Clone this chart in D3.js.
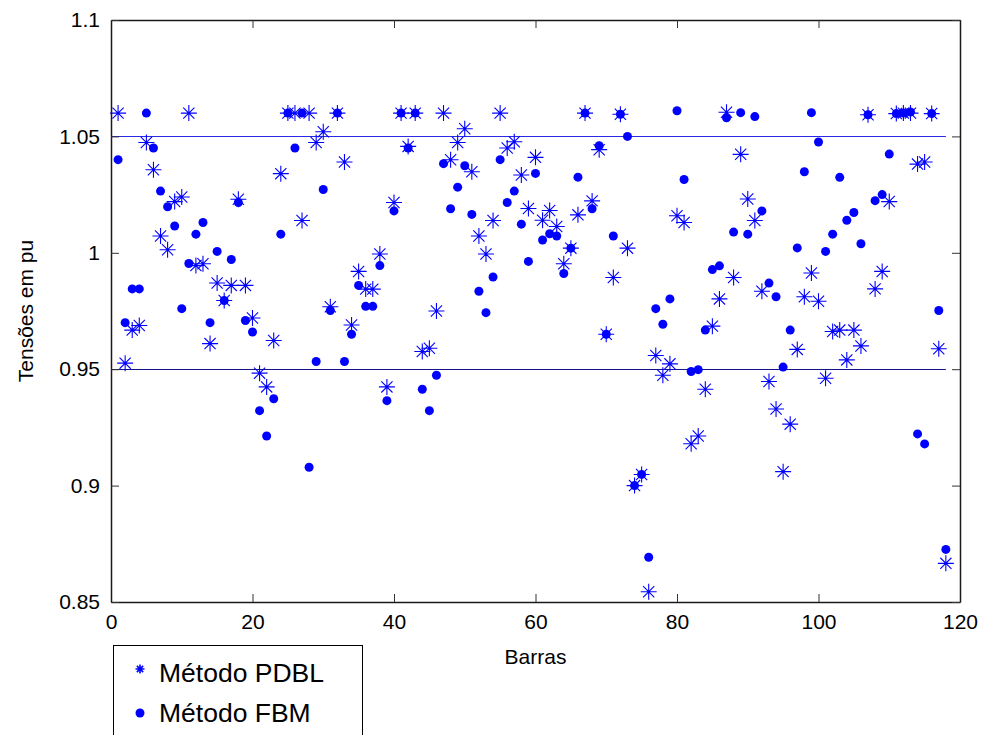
<!DOCTYPE html>
<html>
<head>
<meta charset="utf-8">
<script src="https://cdn.jsdelivr.net/npm/d3@7"></script>
<style>
  html, body { margin: 0; padding: 0; background: #fff; }
  svg { display: block; }
  text { font-family: "Liberation Sans", Arial, sans-serif; fill: #000; }
</style>
</head>
<body>
<svg id="chart" width="987" height="735"></svg>
<script>
// Bus voltages (pu) for the 118 buses, two solution methods
const barras = d3.range(1, 119);

const pdbl = [
  1.060, 0.9526, 0.9668, 0.9688, 1.0474, 1.0357, 1.0072, 1.0013, 1.022, 1.024,
  1.060, 0.9945, 0.9953, 0.961, 0.987, 0.9795, 0.986, 1.023, 0.986, 0.972,
  0.9483, 0.9424, 0.9623, 1.034, 1.060, 1.060, 1.0139, 1.060, 1.0474, 1.052,
  0.9768, 1.060, 1.039, 0.969, 0.992, 0.9844, 0.9844, 0.9995, 0.9424, 1.0216,
  1.060, 1.0457, 1.060, 0.9576, 0.959, 0.975, 1.060, 1.040, 1.0474, 1.0533,
  1.0348, 1.0072, 0.9995, 1.0139, 1.060, 1.045, 1.0477, 1.0334, 1.019, 1.041,
  1.014, 1.0182, 1.0113, 0.9953, 1.002, 1.0163, 1.060, 1.0223, 1.0443, 0.965,
  0.9894, 1.0595, 1.002, 0.900, 0.9048, 0.8544, 0.9559, 0.9474, 0.9523, 1.0159,
  1.013, 0.918, 0.9213, 0.9414, 0.9685, 0.9802, 1.0604, 0.9894, 1.0423, 1.0231,
  1.0139, 0.9835, 0.9447, 0.9329, 0.906, 0.9264, 0.9585, 0.9811, 0.9913, 0.9792,
  0.9461, 0.9662, 0.9668, 0.954, 0.9668, 0.960, 1.0593, 0.9845, 0.992, 1.022,
  1.0598, 1.060, 1.060, 1.0381, 1.039, 1.0598, 0.9588, 0.8666
];

const fbm = [
  1.040, 0.970, 0.9845, 0.9845, 1.060, 1.045, 1.0265, 1.0198, 1.0115, 0.976,
  0.9954, 1.008, 1.013, 0.970, 1.0006, 0.9795, 0.9971, 1.0216, 0.9709, 0.966,
  0.9322, 0.9213, 0.9373, 1.008, 1.060, 1.045, 1.060, 0.9079, 0.9533, 1.0272,
  0.9752, 1.060, 0.9533, 0.965, 0.986, 0.977, 0.977, 0.9945, 0.9365, 1.018,
  1.060, 1.045, 1.060, 0.9414, 0.9322, 0.9474, 1.0383, 1.0189, 1.0282, 1.0374,
  1.0165, 0.9835, 0.9743, 0.9896, 1.040, 1.0216, 1.0265, 1.0123, 0.9963, 1.0341,
  1.0055, 1.0082, 1.0072, 0.9911, 1.002, 1.0325, 1.060, 1.0189, 1.046, 0.965,
  1.0072, 1.0595, 1.050, 0.900, 0.9048, 0.8692, 0.976, 0.9693, 0.9802, 1.061,
  1.0315, 0.949, 0.9498, 0.9668, 0.9928, 0.9944, 1.058, 1.0089, 1.0602, 1.008,
  1.0585, 1.018, 0.987, 0.9811, 0.9509, 0.9668, 1.0021, 1.0348, 1.0602, 1.0476,
  1.0006, 1.008, 1.0324, 1.014, 1.0173, 1.0039, 1.0593, 1.0224, 1.025, 1.0424,
  1.0598, 1.060, 1.0605, 0.9222, 0.9179, 1.0598, 0.9752, 0.8726
];

// Voltage limits drawn as reference lines
const limites = [1.05, 0.95];
const xTicks = [0, 20, 40, 60, 80, 100, 120];
const yTicks = [0.85, 0.9, 0.95, 1, 1.05, 1.1];
const legenda = ["Método PDBL", "Método FBM"];

const svg = d3.select("#chart");
const plotLeft = 111, plotRight = 960, plotTop = 20, plotBottom = 602;

const x = d3.scaleLinear().domain([0, 120]).range([plotLeft, plotRight]);
const y = d3.scaleLinear().domain([0.85, 1.1]).range([plotBottom, plotTop]);

const blue = "#0000ff";

// Asterisk marker: a plus and a cross
function asterisk(r) {
  const d = r * 0.7;
  return `M${-r},0H${r}M0,${-r}V${r}M${-d},${-d}L${d},${d}M${-d},${d}L${d},${-d}`;
}

const plot = svg.append("g");

// Limit lines
plot.selectAll("line.lim")
  .data(limites)
  .join("line")
  .attr("class", "lim")
  .attr("x1", x(0)).attr("x2", x(118))
  .attr("y1", d => Math.round(y(d)) + 0.5)
  .attr("y2", d => Math.round(y(d)) + 0.5)
  .attr("stroke", (d, i) => i === 0 ? "#2a2ae6" : "#14148a")
  .attr("stroke-width", 1.2);

// PDBL series (asterisks)
plot.selectAll("path.pdbl")
  .data(barras)
  .join("path")
  .attr("class", "pdbl")
  .attr("transform", (b, i) => `translate(${x(b)},${y(pdbl[i])})`)
  .attr("d", asterisk(8))
  .attr("fill", "none")
  .attr("stroke", blue)
  .attr("stroke-width", 1.1);

// FBM series (filled dots)
plot.selectAll("circle.fbm")
  .data(barras)
  .join("circle")
  .attr("class", "fbm")
  .attr("cx", b => x(b))
  .attr("cy", (b, i) => y(fbm[i]))
  .attr("r", 4.5)
  .attr("fill", blue);

// Axes box with inward ticks on all four sides
const axisG = svg.append("g");
const tickLen = 8;

const xAxisB = d3.axisBottom(x).tickValues(xTicks).tickSizeInner(-tickLen).tickSizeOuter(0).tickPadding(12).tickFormat(d3.format("d"));
const xAxisT = d3.axisTop(x).tickValues(xTicks).tickSizeInner(-tickLen).tickSizeOuter(0).tickFormat("");
const yAxisL = d3.axisLeft(y).tickValues(yTicks).tickSizeInner(-tickLen).tickSizeOuter(0).tickPadding(11).tickFormat(d => String(+d.toFixed(2)));
const yAxisR = d3.axisRight(y).tickValues(yTicks).tickSizeInner(-tickLen).tickSizeOuter(0).tickFormat("");

function styleAxis(g) {
  g.select(".domain").attr("stroke", "#1a1a1a").attr("stroke-width", 1.5);
  g.selectAll(".tick line").attr("stroke", "#333").attr("stroke-width", 1);
  g.selectAll(".tick text")
    .attr("font-family", '"Liberation Sans", Arial, sans-serif')
    .attr("font-size", 21)
    .attr("fill", "#000");
}

axisG.append("g").attr("transform", `translate(0,${plotBottom})`).call(xAxisB).call(styleAxis);
axisG.append("g").attr("transform", `translate(0,${plotTop})`).call(xAxisT).call(styleAxis);
axisG.append("g").attr("transform", `translate(${plotLeft},0)`).call(yAxisL).call(styleAxis);
axisG.append("g").attr("transform", `translate(${plotRight},0)`).call(yAxisR).call(styleAxis);

// Axis titles
svg.append("text")
  .attr("x", (plotLeft + plotRight) / 2)
  .attr("y", 664)
  .attr("text-anchor", "middle")
  .attr("font-size", 21)
  .text("Barras");

svg.append("text")
  .attr("transform", `translate(33,${(plotTop + plotBottom) / 2}) rotate(-90)`)
  .attr("text-anchor", "middle")
  .attr("font-size", 21)
  .text("Tensões em pu");

// Legend
const leg = svg.append("g");
leg.append("rect")
  .attr("x", 113.5).attr("y", 645.5)
  .attr("width", 249).attr("height", 110)
  .attr("fill", "#fff")
  .attr("stroke", "#000")
  .attr("stroke-width", 1);

const legRows = leg.selectAll("g.row")
  .data(legenda)
  .join("g")
  .attr("class", "row")
  .attr("transform", (d, i) => `translate(0,${673 + i * 40})`);

legRows.filter((d, i) => i === 0)
  .append("path")
  .attr("transform", "translate(140,-4)")
  .attr("d", asterisk(4.5))
  .attr("fill", "none")
  .attr("stroke", blue)
  .attr("stroke-width", 1.6);

legRows.filter((d, i) => i === 1)
  .append("circle")
  .attr("cx", 140).attr("cy", 0)
  .attr("r", 4.5)
  .attr("fill", blue);

legRows.append("text")
  .attr("x", 159)
  .attr("y", 9)
  .attr("font-size", 26.5)
  .text(d => d);
</script>
</body>
</html>
